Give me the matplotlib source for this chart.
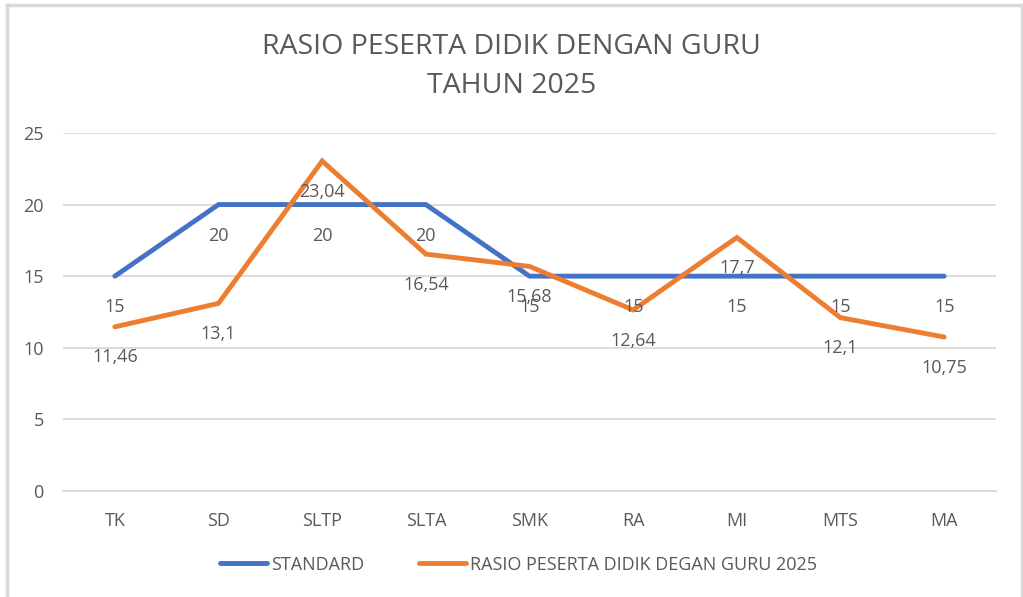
import matplotlib.pyplot as plt
from matplotlib.lines import Line2D

categories = ['TK', 'SD', 'SLTP', 'SLTA', 'SMK', 'RA', 'MI', 'MTS', 'MA']
standard = [15, 20, 20, 20, 15, 15, 15, 15, 15]
rasio = [11.46, 13.1, 23.04, 16.54, 15.68, 12.64, 17.7, 12.1, 10.75]

plt.rcParams['font.family'] = ['Open Sans', 'DejaVu Sans']
txt = '#595959'
blue = '#4472C4'
orange = '#ED7D31'
grid = '#D9D9D9'

fig = plt.figure(figsize=(10.23, 5.97), dpi=100)
ax = fig.add_axes([0.0616, 0.1776, 0.912, 0.5997])

x = list(range(len(categories)))
ax.plot(x, standard, color=blue, lw=3.5, solid_capstyle='round', solid_joinstyle='miter', zorder=3)
ax.plot(x, rasio, color=orange, lw=3.5, solid_capstyle='round', solid_joinstyle='miter', zorder=4)


def fmt(v):
    s = ('%.2f' % v).rstrip('0').rstrip('.')
    return s.replace('.', ',')


for xi, v in zip(x, standard):
    ax.annotate(fmt(v), (xi, v), xytext=(0, -22.5), textcoords='offset points',
                ha='center', va='center', fontsize=13, color=txt, zorder=5)
for xi, v in zip(x, rasio):
    ax.annotate(fmt(v), (xi, v), xytext=(0, -22), textcoords='offset points',
                ha='center', va='center', fontsize=13, color=txt, zorder=5)

ax.set_xlim(-0.5, len(categories) - 0.5)
ax.set_ylim(0, 25)
ax.set_yticks([0, 5, 10, 15, 20, 25])
ax.set_xticks(x)
ax.set_xticklabels(categories)
ax.yaxis.grid(True, color=grid, lw=1.3)
ax.set_axisbelow(True)
for s in ['top', 'right', 'left']:
    ax.spines[s].set_visible(False)
ax.spines['bottom'].set_color(grid)
ax.spines['bottom'].set_linewidth(1.3)
ax.tick_params(length=0, labelsize=13, colors=txt)
ax.tick_params(axis='y', pad=14)
ax.tick_params(axis='x', pad=15)

fig.text(0.5, 0.889, 'RASIO PESERTA DIDIK DENGAN GURU\nTAHUN 2025', ha='center', va='center',
         fontsize=20.5, color=txt, linespacing=1.5)

handles = [Line2D([], [], color=blue, lw=3.5, solid_capstyle='round'),
           Line2D([], [], color=orange, lw=3.5, solid_capstyle='round')]
fig.legend(handles, ['STANDARD', 'RASIO PESERTA DIDIK DEGAN GURU 2025'], loc='center',
           bbox_to_anchor=(0.507, 0.054), ncol=2, frameon=False, fontsize=13,
           handlelength=2.6, handletextpad=0.25, columnspacing=3.0, labelcolor=txt)

# outer frame of the chart area
fig.add_artist(Line2D([0.0068, 0.0068], [0, 0.9916], color='#D9D9D9', lw=2.5, transform=fig.transFigure))
fig.add_artist(Line2D([0.0068, 0.9995], [0.9916, 0.9916], color='#D9D9D9', lw=2.5, transform=fig.transFigure))
fig.add_artist(Line2D([0.9995, 0.9995], [0, 0.9916], color='#D9D9D9', lw=2.5, transform=fig.transFigure))

fig.savefig('out.png', dpi=100)
